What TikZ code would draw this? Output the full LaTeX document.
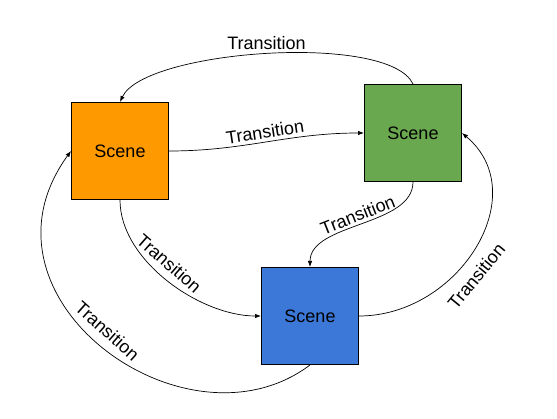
\documentclass[tikz,border=0pt]{standalone}
\usepackage{fontspec}
\setmainfont{Liberation Sans}
\usetikzlibrary{arrows.meta}
\definecolor{sceneorange}{HTML}{FF9900}
\definecolor{scenegreen}{HTML}{6AA84F}
\definecolor{sceneblue}{HTML}{3C78D8}

\begin{document}
\begin{tikzpicture}[x=1pt, y=1pt,
    scene/.style={draw, line width=1pt, minimum size=97pt, inner sep=0pt,
                  font=\fontsize{18}{21}\selectfont},
    trans/.style={-{Latex[length=6pt,width=4.5pt]}, line width=0.7pt},
    lbl/.style={font=\fontsize{18}{21}\selectfont, sloped}]
\useasboundingbox (0,0) rectangle (557,418);

\node[scene, fill=sceneorange] (A) at (120,267) {Scene};
\node[scene, fill=scenegreen]  (B) at (413,285) {Scene};
\node[scene, fill=sceneblue]   (C) at (310,102) {Scene};

\draw[trans] (B.north) to[out=115, in=65, looseness=0.5]
    node[font=\fontsize{18}{21}\selectfont, above=1pt] {Transition} (A.north);
\draw[trans] (A.east) to[out=0, in=180]
    node[lbl, above] {Transition} (B.west);
\draw[trans] (B.south) to[out=-90, in=90, looseness=0.85]
    node[lbl, above] {Transition} (C.north);
\draw[trans] (A.south) to[out=-90, in=180, looseness=0.85]
    node[lbl, above=4pt, pos=0.45] {Transition} (C.west);
\draw[trans] (C.south) .. controls +(217:155) and +(234:182) ..
    node[lbl, above=5pt, pos=0.52] {Transition} (A.west);
\draw[trans] (C.east) .. controls +(0:100) and +(-40:95) ..
    node[lbl, below=7pt, pos=0.42] {Transition} (B.east);

\end{tikzpicture}
\end{document}
